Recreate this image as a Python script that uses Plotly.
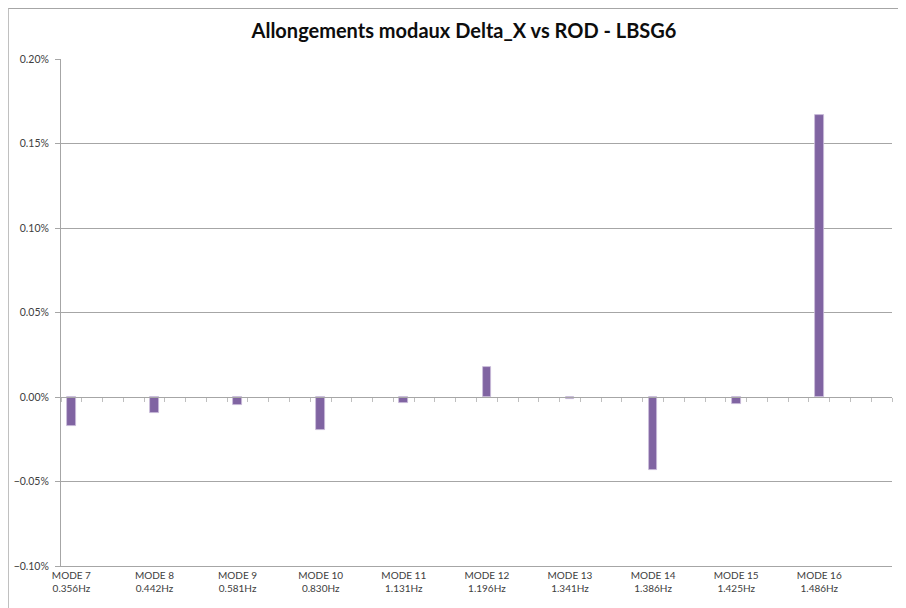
import plotly.graph_objects as go

modes = ["MODE 7", "MODE 8", "MODE 9", "MODE 10", "MODE 11",
         "MODE 12", "MODE 13", "MODE 14", "MODE 15", "MODE 16"]
freqs = ["0.356Hz", "0.442Hz", "0.581Hz", "0.830Hz", "1.131Hz",
         "1.196Hz", "1.341Hz", "1.386Hz", "1.425Hz", "1.486Hz"]
values = [-0.00017, -0.000095, -0.000047, -0.000195, -0.000037,
          0.000179, -0.000012, -0.000432, -0.000043, 0.00167]

n_slots = 40          # category slots on the axis
step = 4              # one mode every 4 slots
xpos = [i * step for i in range(len(modes))]
labels = [f"{m}<br>{f}" for m, f in zip(modes, freqs)]

FONT = "Lato, 'Open Sans', sans-serif"
GRID = "#A6A6A6"

# page body adds an 8px offset; target positions are in screen pixels
OFF = 8
W, H = 906, 608
plot_left, plot_right, plot_top, plot_bottom = 61.3, 892.5, 59, 566
ml = plot_left - OFF
mt = plot_top - OFF
mr = W - (plot_right - OFF)
mb = H - (plot_bottom - OFF)
pw = W - ml - mr
ph = H - mt - mb

def px_to_paper_x(px):
    return (px - OFF - ml) / pw

def px_to_paper_y(py):
    return (H - mb - (py - OFF)) / ph

fig = go.Figure()
fig.add_trace(go.Bar(
    x=xpos, y=values, width=0.42,
    marker=dict(color="#8064A2", line=dict(color="#C9BCDB", width=0.8)),
    showlegend=False, hoverinfo="skip"))
# helper trace so the zero-line axis (x2) is rendered
fig.add_trace(go.Scatter(x=[-0.5, n_slots - 0.5], y=[0, 0], xaxis="x2",
                         mode="lines", line=dict(width=0), showlegend=False,
                         hoverinfo="skip"))

fig.update_layout(
    width=W, height=H,
    margin=dict(l=ml, r=mr, t=mt, b=mb, autoexpand=False),
    paper_bgcolor="white", plot_bgcolor="white",
    font=dict(family=FONT, size=11, color="#404040"),
    title=dict(text="<b>Allongements modaux Delta_X vs ROD - LBSG6</b>",
               x=(464 - OFF) / W, xanchor="center", xref="container",
               y=1 - (31 - OFF) / H, yanchor="middle", yref="container",
               font=dict(family=FONT, size=20, color="#0d0d0d")),
    bargap=0,
    xaxis=dict(range=[-0.5, n_slots - 0.5], tickvals=xpos, ticktext=labels,
               showgrid=False, zeroline=False, showline=True,
               linecolor=GRID, linewidth=1, ticks="",
               tickfont=dict(family=FONT, size=10, color="#404040")),
    xaxis2=dict(range=[-0.5, n_slots - 0.5], overlaying="x", anchor="free",
                position=1 / 3, side="bottom", showgrid=False, zeroline=False,
                showline=True, linecolor=GRID, linewidth=1,
                tickmode="array", tickvals=[k - 0.5 for k in range(n_slots + 1)],
                ticks="outside", ticklen=4, tickcolor="#BFBFBF",
                showticklabels=False),
    yaxis=dict(range=[-0.001, 0.002], dtick=0.0005, tick0=0,
               tickformat=".2%", showgrid=True, gridcolor=GRID, gridwidth=1,
               zeroline=False, showline=True, linecolor=GRID, linewidth=1,
               ticks="outside", ticklen=5, tickcolor=GRID,
               ticklabelstandoff=4,
               tickfont=dict(family=FONT, size=10.5, color="#404040")),
    shapes=[
        dict(type="line", xref="paper", yref="paper",
             x0=px_to_paper_x(8.5), x1=px_to_paper_x(8.5),
             y0=px_to_paper_y(8.5), y1=px_to_paper_y(H + OFF),
             line=dict(color="#A6A6A6", width=1)),
        dict(type="line", xref="paper", yref="paper",
             x0=px_to_paper_x(8.5), x1=px_to_paper_x(W + OFF),
             y0=px_to_paper_y(8.5), y1=px_to_paper_y(8.5),
             line=dict(color="#A6A6A6", width=1)),
    ],
)

fig.write_html("out.html")
